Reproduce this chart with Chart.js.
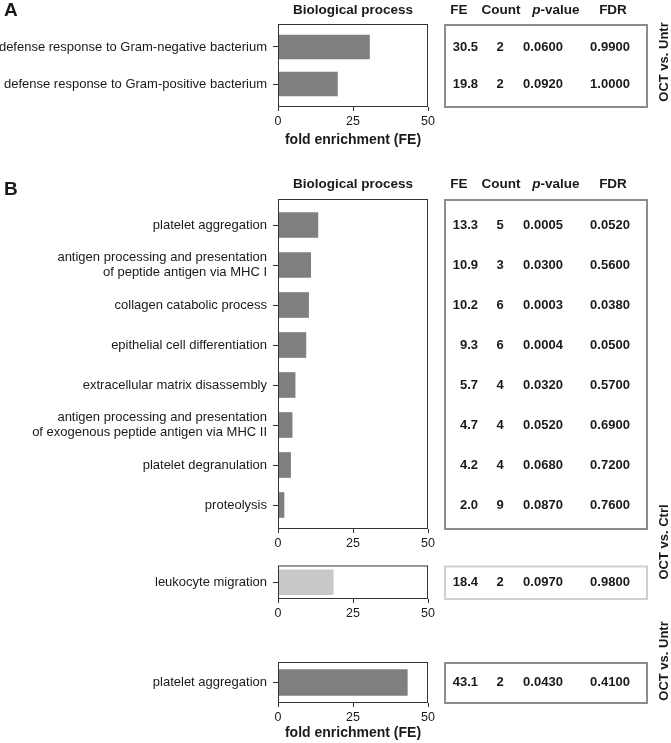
<!DOCTYPE html>
<html>
<head>
<meta charset="utf-8">
<script src="https://cdn.jsdelivr.net/npm/chart.js@4"></script>
<style>
  body { margin: 0; background: #fff; font-family: "Liberation Sans", Arial, sans-serif; color: #1a1a1a; }
  #wrap { position: relative; width: 671px; height: 743px; overflow: hidden; }
  #wrap canvas { position: absolute; left: 0; }
  .t { position: absolute; font-weight: bold; font-size: 13px; line-height: 14px; white-space: nowrap; }
  .c { transform: translateX(-50%); }
  .h { font-size: 13.5px; }
  .rot { transform: translate(-50%, -50%) rotate(-90deg); }
  .big { font-size: 19px; line-height: 20px; }
</style>
</head>
<body>
<div id="wrap">
  <canvas id="cA" width="671" height="150" style="top:0"></canvas>
  <canvas id="cB" width="671" height="371" style="top:180px"></canvas>
  <canvas id="cL" width="671" height="69" style="top:552px"></canvas>
  <canvas id="cP" width="671" height="103" style="top:640px"></canvas>
</div>
<script>
// A: OCT vs. Untr
const termsA = ['defense response to Gram-negative bacterium', 'defense response to Gram-positive bacterium'];
const feA    = [30.5, 19.8];
const countA = [2, 2];
const pA     = [0.0600, 0.0920];
const fdrA   = [0.9900, 1.0000];

// B: OCT vs. Ctrl
const termsB = [
  'platelet aggregation',
  ['antigen processing and presentation', 'of peptide antigen via MHC I'],
  'collagen catabolic process',
  'epithelial cell differentiation',
  'extracellular matrix disassembly',
  ['antigen processing and presentation', 'of exogenous peptide antigen via MHC II'],
  'platelet degranulation',
  'proteolysis'
];
const feB    = [13.3, 10.9, 10.2, 9.3, 5.7, 4.7, 4.2, 2.0];
const countB = [5, 3, 6, 6, 4, 4, 4, 9];
const pB     = [0.0005, 0.0300, 0.0003, 0.0004, 0.0320, 0.0520, 0.0680, 0.0870];
const fdrB   = [0.0520, 0.5600, 0.0380, 0.0500, 0.5700, 0.6900, 0.7200, 0.7600];

// B: OCT vs. Ctrl (lighter)
const termsL = ['leukocyte migration'];
const feL    = [18.4];
const countL = [2];
const pL     = [0.0970];
const fdrL   = [0.9800];

// B: OCT vs. Untr
const termsP = ['platelet aggregation'];
const feP    = [43.1];
const countP = [2];
const pP     = [0.0430];
const fdrP   = [0.4100];

const xTicks = [0, 25, 50];
const tableHead = ['FE', 'Count', 'p-value', 'FDR'];

const FONT = '"Liberation Sans", Arial, sans-serif';
const INK = '#1a1a1a';

// draws plot frame + the stats table next to the bars
const goTable = {
  id: 'goTable',
  afterDraw(chart, args, o) {
    const { ctx, chartArea: a } = chart;
    const y = chart.scales.y;
    ctx.save();
    ctx.strokeStyle = '#333'; ctx.lineWidth = 1;
    ctx.strokeRect(a.left + 0.5, a.top + 0.5, a.right - a.left - 1, a.bottom - a.top - 1);
    ctx.strokeStyle = o.boxColor; ctx.lineWidth = 2;
    ctx.strokeRect(445, a.top + 1, 202, a.bottom - a.top - 1);
    ctx.fillStyle = INK;
    ctx.font = 'bold 13px ' + FONT;
    ctx.textBaseline = 'middle';
    o.fe.forEach((v, i) => {
      const yy = y.getPixelForValue(i);
      ctx.textAlign = 'right';  ctx.fillText(v.toFixed(1), 478, yy);
      ctx.textAlign = 'center';
      ctx.fillText(String(o.count[i]), 500, yy);
      ctx.fillText(o.pval[i].toFixed(4), 543, yy);
      ctx.fillText(o.fdr[i].toFixed(4), 610, yy);
    });
    ctx.restore();
  }
};

function panel(id, p) {
  new Chart(document.getElementById(id), {
    type: 'bar',
    data: { datasets: [{
      data: p.fe.map((v, i) => ({ x: v, y: i })),
      backgroundColor: p.color, borderWidth: 0, barThickness: p.thick
    }]},
    plugins: [goTable],
    options: {
      indexAxis: 'y', responsive: false, animation: false,
      layout: { padding: { top: p.top, right: 243, left: 0, bottom: 0 } },
      plugins: {
        legend: { display: false }, tooltip: { enabled: false },
        goTable: { fe: p.fe, count: p.count, pval: p.pval, fdr: p.fdr, boxColor: p.box }
      },
      scales: {
        y: {
          type: 'linear', reverse: true, min: p.yMin, max: p.yMax, offset: false,
          afterBuildTicks: s => { s.ticks = p.terms.map((_, i) => ({ value: i })); },
          afterFit: s => { s.width = 278; },
          border: { display: false },
          grid: { offset: false, drawOnChartArea: false, tickLength: 5, color: '#333' },
          ticks: { autoSkip: false, padding: 6, color: INK, font: { family: FONT, size: 13, lineHeight: 1.15 },
                   callback: v => p.terms[v] }
        },
        x: {
          min: 0, max: 50,
          afterBuildTicks: s => { s.ticks = xTicks.map(v => ({ value: v })); },
          afterFit: s => { s.height = p.axisH; },
          border: { display: false },
          grid: { drawOnChartArea: false, tickLength: 4, color: '#333' },
          ticks: { padding: 3, color: INK, font: { family: FONT, size: 12.5 } },
          title: { display: !!p.title, text: 'fold enrichment (FE)', color: INK,
                   font: { family: FONT, size: 14, weight: 'bold' }, padding: { top: 0, bottom: p.titlePad || 0 } }
        }
      }
    }
  });
}

panel('cA', { terms: termsA, fe: feA, count: countA, pval: pA, fdr: fdrA, color: '#7f7f7f', box: '#8c8c8c',
  top: 24, axisH: 43, yMin: -0.62, yMax: 1.62, thick: 24, title: true, titlePad: 1 });
panel('cB', { terms: termsB, fe: feB, count: countB, pval: pB, fdr: fdrB, color: '#7f7f7f', box: '#8c8c8c',
  top: 19, axisH: 22, yMin: -0.65, yMax: 7.6, thick: 25 });
panel('cL', { terms: termsL, fe: feL, count: countL, pval: pL, fdr: fdrL, color: '#c8c8c8', box: '#cfcfcf',
  top: 5, axisH: 22, yMin: -0.5, yMax: 0.5, thick: 25 });
panel('cP', { terms: termsP, fe: feP, count: countP, pval: pP, fdr: fdrP, color: '#7f7f7f', box: '#8c8c8c',
  top: 22, axisH: 40, yMin: -0.5, yMax: 0.5, thick: 26, title: true, titlePad: 1 });

// static text: panel letters, headers, comparison labels
const wrap = document.getElementById('wrap');
function txt(html, x, y, cls) {
  const d = document.createElement('div');
  d.className = 't ' + cls;
  d.innerHTML = html;
  d.style.left = x + 'px';
  d.style.top = y + 'px';
  wrap.appendChild(d);
}
txt('A', 4, 0, 'big');
txt('B', 4, 179, 'big');
const headX = [459, 501, 556, 613];
[3, 177].forEach(y => {
  txt('Biological process', 353, y, 'c h');
  tableHead.forEach((h, i) => txt(h.replace(/^p-/, '<i>p</i>-'), headX[i], y, 'c h'));
});
txt('OCT vs. Untr', 664, 62, 'rot');
txt('OCT vs. Ctrl', 664, 542, 'rot');
txt('OCT vs. Untr', 664, 661, 'rot');
</script>
</body>
</html>
